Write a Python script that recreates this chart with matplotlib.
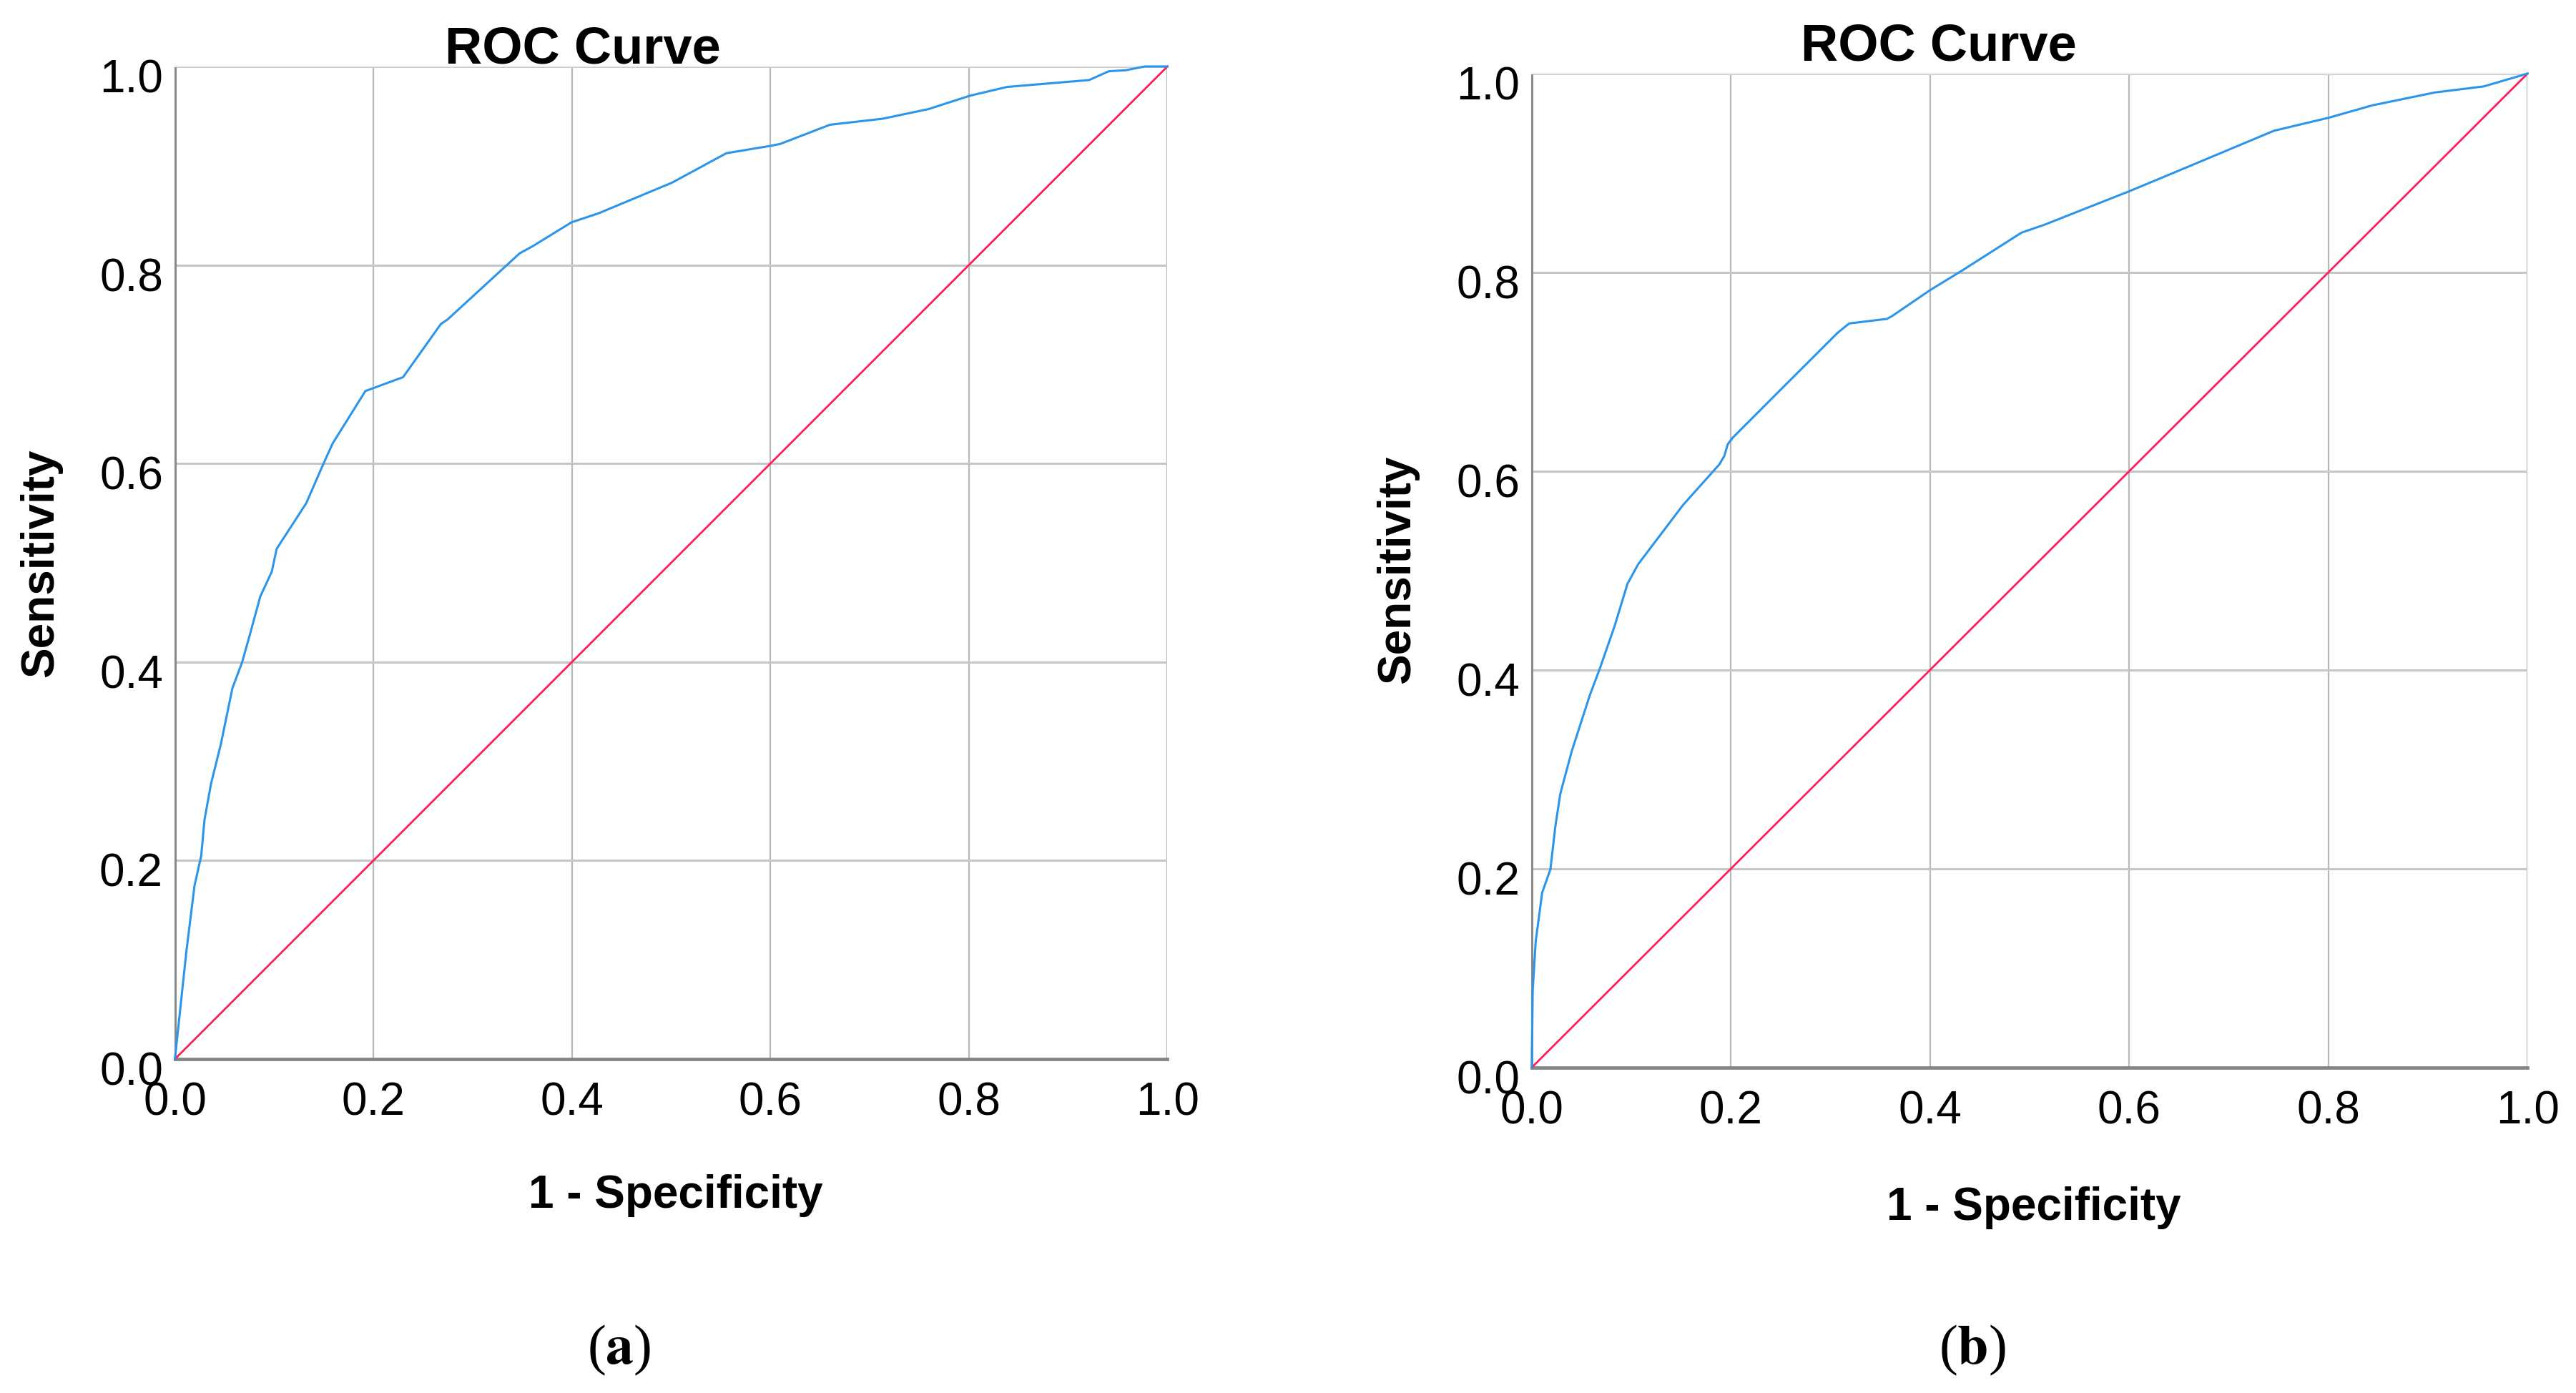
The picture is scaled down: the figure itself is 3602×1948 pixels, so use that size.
"""Two SPSS-style ROC curves side by side, panels (a) and (b)."""

import matplotlib
matplotlib.use("Agg")
import matplotlib.pyplot as plt
from matplotlib.transforms import ScaledTranslation

# Panel (a): 1 - specificity vs. sensitivity.
fpr_a = [0.0, 0.0116, 0.0198, 0.0265, 0.0298, 0.0364, 0.0463, 0.0579, 0.0678,
         0.0761, 0.086, 0.0976, 0.1025, 0.1323, 0.1489, 0.1588, 0.1919, 0.2299,
         0.268, 0.2746, 0.3473, 0.3606, 0.3996, 0.4267, 0.501, 0.5556, 0.600,
         0.610, 0.660, 0.7127, 0.759, 0.8009, 0.8385, 0.921, 0.941, 0.958,
         0.9773, 1.0]
tpr_a = [0.0, 0.1088, 0.175, 0.2048, 0.241, 0.2775, 0.3172, 0.3735, 0.400,
         0.4297, 0.466, 0.491, 0.514, 0.560, 0.598, 0.620, 0.673, 0.687,
         0.7406, 0.745, 0.8117, 0.819, 0.843, 0.852, 0.883, 0.9126, 0.920,
         0.922, 0.9413, 0.9473, 0.957, 0.9705, 0.9794, 0.9863, 0.9952, 0.9962,
         1.0, 1.0]

# Panel (b)
fpr_b = [0.0, 0.0006, 0.001, 0.004, 0.0105, 0.0188, 0.0237, 0.0287, 0.0402,
         0.0583, 0.0682, 0.0831, 0.0962, 0.107, 0.152, 0.1886, 0.1935, 0.1968,
         0.2018, 0.248, 0.3073, 0.3188, 0.3567, 0.3617, 0.4003, 0.4326, 0.4919,
         0.5143, 0.601, 0.6432, 0.7454, 0.8008, 0.844, 0.907, 0.9561, 1.0]
tpr_b = [0.0, 0.044, 0.077, 0.1267, 0.176, 0.1994, 0.2422, 0.2753, 0.3182,
         0.3744, 0.4008, 0.4437, 0.4867, 0.5065, 0.566, 0.607, 0.6155, 0.627,
         0.6336, 0.680, 0.7393, 0.7486, 0.7532, 0.7559, 0.7823, 0.8021, 0.840,
         0.8477, 0.882, 0.8996, 0.9425, 0.9557, 0.968, 0.981, 0.9871, 1.0]

# Reference line
diag = [0.0, 1.0]

ticks = [0.0, 0.2, 0.4, 0.6, 0.8, 1.0]
tick_labels = ["0.0", "0.2", "0.4", "0.6", "0.8", "1.0"]

BLUE = "#2b95ec"
RED = "#ff1f55"
SANS = "Liberation Sans"
SERIF = "Liberation Serif"


def draw_roc(fig, rect, fpr, tpr):
    ax = fig.add_axes(rect)
    ax.plot(fpr, tpr, color=BLUE, linewidth=1.1, clip_on=False, zorder=4)
    ax.plot(diag, diag, color=RED, linewidth=1.0, clip_on=False, zorder=3)

    ax.set(xlim=(0, 1), ylim=(0, 1))
    ax.set_xticks(ticks, tick_labels)
    ax.set_yticks(ticks, tick_labels)
    ax.tick_params(length=0, labelsize=23, colors="black")
    ax.tick_params(axis="x", pad=11)
    ax.tick_params(axis="y", pad=6)
    for label in ax.get_xticklabels() + ax.get_yticklabels():
        label.set_fontfamily(SANS)
    # SPSS puts the y tick labels a little below their grid line.
    shift = ScaledTranslation(0, -0.06, fig.dpi_scale_trans)
    for label in ax.get_yticklabels():
        label.set_transform(label.get_transform() + shift)

    ax.xaxis.grid(True, color="#b8b8b8", linewidth=0.8)
    ax.yaxis.grid(True, color="#c6c6c6", linewidth=1.1)
    ax.set_axisbelow(True)

    ax.spines["right"].set_visible(False)
    ax.spines["top"].set_color("#ececec")
    ax.spines["left"].set_color("#8a8a8a")
    ax.spines["left"].set_linewidth(1.1)
    ax.spines["bottom"].set_color("#838383")
    ax.spines["bottom"].set_linewidth(1.7)
    return ax


def main():
    fig = plt.figure(figsize=(18.01, 9.745), dpi=200)

    draw_roc(fig, [0.0679, 0.2396, 0.3853, 0.7122], fpr_a, tpr_a)
    draw_roc(fig, [0.5946, 0.2335, 0.3866, 0.7132], fpr_b, tpr_b)

    title_kw = dict(fontsize=26, fontweight="bold", family=SANS,
                    ha="center", va="baseline")
    fig.text(0.2263, 0.9548, "ROC Curve", **title_kw)
    fig.text(0.7526, 0.9564, "ROC Curve", **title_kw)

    label_kw = dict(fontsize=23, fontweight="bold", family=SANS)
    fig.text(0.0158, 0.5962, "Sensitivity", rotation=90,
             ha="center", va="center", **label_kw)
    fig.text(0.5425, 0.5916, "Sensitivity", rotation=90,
             ha="center", va="center", **label_kw)
    fig.text(0.2623, 0.1334, "1 - Specificity", ha="center", va="baseline", **label_kw)
    fig.text(0.7895, 0.1247, "1 - Specificity", ha="center", va="baseline", **label_kw)

    # Panel captions: bold letter in regular parentheses.
    for x, letter in [(0.2404, "a"), (0.7655, "b")]:
        fig.text(x, 0.0216, r"(" + r"$\mathbf{" + letter + r"}$" + ")",
                 fontsize=28, family=SERIF, ha="center", va="baseline",
                 math_fontfamily="stix")

    fig.savefig("out.png", dpi=200, facecolor="white")


if __name__ == "__main__":
    main()
